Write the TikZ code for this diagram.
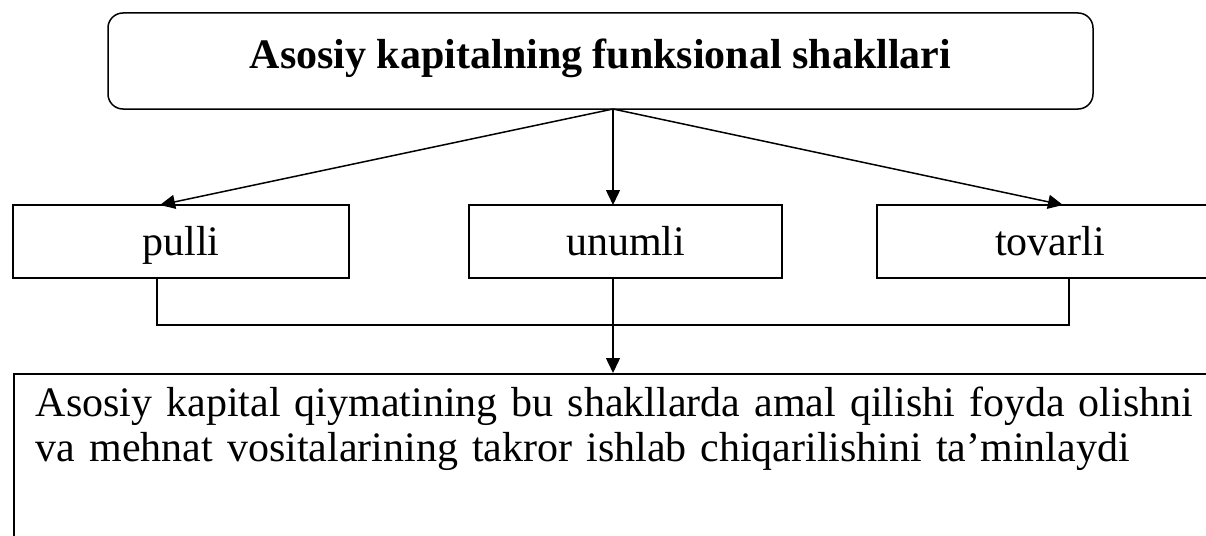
\documentclass[tikz,border=0pt]{standalone}
\usepackage{fontspec}
\setmainfont{Liberation Serif}
\usepackage{tikz}
\usetikzlibrary{positioning,arrows.meta,calc}

\begin{document}
\begin{tikzpicture}[
  x=1pt, y=-1pt,
  >={Triangle[length=15pt,width=14pt]},
  every node/.style={font=\fontsize{42}{47}\selectfont},
  line width=1.5pt,
  topbox/.style={draw, rounded corners=15pt, minimum width=985pt, minimum height=96pt,
    inner sep=0pt, text height=28pt, text depth=14pt},
  formbox/.style={draw, minimum height=73pt, inner sep=0pt, text height=27pt, text depth=0pt},
  resultbox/.style={draw, anchor=north west, text width=1230pt, align=left,
    font=\fontsize{42}{45}\selectfont,
    inner xsep=22pt, inner ysep=11pt, text depth=140pt}
]
\useasboundingbox (0,0) rectangle (1206,535);
\clip (0,0) rectangle (1206,535);

% sarlavha
\node[topbox] (title) at (600.5,61) {\bfseries Asosiy kapitalning funksional shakllari};

% uch shakl
\node[formbox, minimum width=336pt] (pulli) at (181,241.5) {pulli};
\node[formbox, minimum width=313pt] (unumli) at (625.5,241.5) {unumli};
\node[formbox, minimum width=346pt] (tovarli) at (1050,241.5) {tovarli};

% natija
\node[resultbox] (natija) at (13,373)
  {\begin{tabular}{@{}l@{}}
   Asosiy kapital qiymatining bu shakllarda amal qilishi foyda olishni\\
   va mehnat vositalarining takror ishlab chiqarilishini ta'minlaydi
   \end{tabular}};

% tarmoqlanish nuqtalari
\coordinate (hub) at (613,109);
\coordinate (pullitop) at (160,205);
\coordinate (unumlitop) at (613,205);
\coordinate (tovarlitop) at (1063,205);

\draw[->] (hub) -- (pullitop);
\draw[->] (hub) -- (unumlitop);
\draw[->] (hub) -- (tovarlitop);

% pastki qavs
\coordinate (pullibot) at (157,278);
\coordinate (unumlibot) at (613,278);
\coordinate (tovarlibot) at (1069,278);
\coordinate (bar) at (613,325);
\draw (pullibot) |- (bar) -| (tovarlibot);
\draw[->] (unumlibot) -- (unumlibot |- natija.north);
\end{tikzpicture}
\end{document}
